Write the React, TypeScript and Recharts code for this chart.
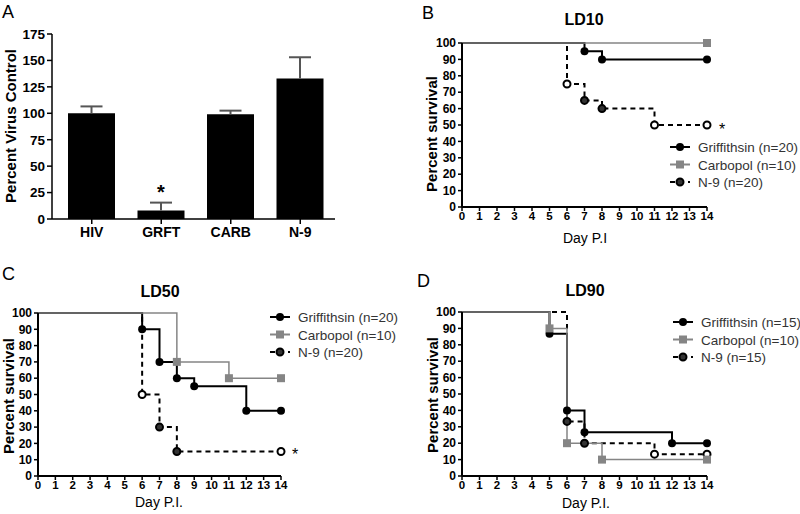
import React from 'react'
import { BarChart, Bar, LineChart, Line, XAxis, YAxis } from 'recharts'

// panel A
const groups = ['HIV', 'GRFT', 'CARB', 'N-9']
const percentVirus = [100, 8, 99, 133]
const percentErr = [6.5, 7.5, 3.5, 20]
const virusTicks = [0, 25, 50, 75, 100, 125, 150, 175]

// survival panels: [day, percent]
const ld10Griffithsin = [[0, 100], [7, 95], [8, 90], [14, 90]]
const ld10Carbopol = [[0, 100], [14, 100]]
const ld10N9 = [[0, 100], [6, 75], [7, 65], [8, 60], [11, 50], [14, 50]]
const ld10N9Censored = [6, 11, 14]

const ld50Griffithsin = [[0, 100], [6, 90], [7, 70], [8, 60], [9, 55], [12, 40], [14, 40]]
const ld50Carbopol = [[0, 100], [8, 70], [11, 60], [14, 60]]
const ld50N9 = [[0, 100], [6, 50], [7, 30], [8, 15], [14, 15]]
const ld50N9Censored = [6, 14]

const ld90Griffithsin = [[0, 100], [5, 86.7], [6, 40], [7, 26.7], [12, 20], [14, 20]]
const ld90Carbopol = [[0, 100], [5, 90], [6, 20], [8, 10], [14, 10]]
const ld90N9 = [[0, 100], [6, 33.3], [7, 20], [11, 13.3], [14, 13.3]]
const ld90N9Censored = [11, 14]

const dayTicks = [0, 1, 2, 3, 4, 5, 6, 7, 8, 9, 10, 11, 12, 13, 14]
const survivalTicks = [0, 10, 20, 30, 40, 50, 60, 70, 80, 90, 100]

const legendLD10 = ['Griffithsin (n=20)', 'Carbopol (n=10)', 'N-9 (n=20)']
const legendLD50 = ['Griffithsin (n=20)', 'Carbopol (n=10)', 'N-9 (n=20)']
const legendLD90 = ['Griffithsin (n=15)', 'Carbopol (n=10)', 'N-9 (n=15)']

const ARIAL = '"Liberation Sans", Arial, sans-serif'
const GRAY = '#858585'

const toRows = (pts: number[][]) => pts.map(([day, pct]) => ({ day, pct }))

const barRows = groups.map((name, i) => ({ name, mean: percentVirus[i], err: percentErr[i] }))

const ErrShape = (p: any) => {
  const cx = p.x + p.width / 2
  return (
    <g>
      <line x1={cx} x2={cx} y1={p.y + p.height} y2={p.y} stroke="#555" strokeWidth={2} />
      <line x1={cx - 11} x2={cx + 11} y1={p.y} y2={p.y} stroke="#555" strokeWidth={2} />
    </g>
  )
}

function dotFor(kind: string, censored: number[] = []) {
  return (p: any) => {
    const key = `${kind}-${p.index}`
    if (p.payload.day === 0) return <g key={key} />
    if (kind === 'grft') return <circle key={key} cx={p.cx} cy={p.cy} r={4} fill="#000" />
    if (kind === 'carb')
      return <rect key={key} x={p.cx - 4} y={p.cy - 4} width={8} height={8} fill={GRAY} />
    const open = censored.includes(p.payload.day)
    return (
      <circle key={key} cx={p.cx} cy={p.cy} r={3.5} fill={open ? '#fff' : '#333'} stroke="#000" strokeWidth={2} />
    )
  }
}

function SurvivalChart(props: any) {
  const { left, top, width, height, margin, yWidth, grft, carb, n9, censored } = props
  return (
    <div style={{ position: 'absolute', left, top }}>
      <LineChart width={width} height={height} margin={margin}>
        <XAxis
          type="number"
          dataKey="day"
          domain={[0, 14]}
          ticks={dayTicks}
          interval={0}
          height={30}
          tickSize={4}
          tickMargin={1}
          tick={{ fontSize: 11.5, fontWeight: 700, fill: '#000', fontFamily: ARIAL }}
          tickLine={{ stroke: '#000', strokeWidth: 1.5 }}
          axisLine={{ stroke: '#000', strokeWidth: 2 }}
        />
        <YAxis
          type="number"
          domain={[0, 100]}
          ticks={survivalTicks}
          interval={0}
          width={yWidth}
          tickSize={4}
          tickMargin={2}
          tick={{ fontSize: 12, fontWeight: 700, fill: '#000', fontFamily: ARIAL }}
          tickLine={{ stroke: '#000', strokeWidth: 1.5 }}
          axisLine={{ stroke: '#000', strokeWidth: 2 }}
        />
        <Line data={toRows(grft)} dataKey="pct" type="stepAfter" stroke="#000" strokeWidth={2}
          dot={dotFor('grft')} activeDot={false} isAnimationActive={false} />
        <Line data={toRows(n9)} dataKey="pct" type="stepAfter" stroke="#000" strokeWidth={2}
          strokeDasharray="5 4" dot={dotFor('n9', censored)} activeDot={false} isAnimationActive={false} />
        <Line data={toRows(carb)} dataKey="pct" type="stepAfter" stroke={GRAY} strokeWidth={1.5}
          dot={dotFor('carb')} activeDot={false} isAnimationActive={false} />
      </LineChart>
    </div>
  )
}

function Legend({ x, y, labels }: { x: number; y: number; labels: string[] }) {
  const gap = 17.5
  return (
    <g>
      {labels.map((lab, i) => {
        const cy = y + i * gap
        const cx = x + 10
        return (
          <g key={lab}>
            <line x1={x} x2={x + 20} y1={cy} y2={cy}
              stroke={i === 1 ? GRAY : '#000'} strokeWidth={2} strokeDasharray={i === 2 ? '5 4' : undefined} />
            {i === 0 && <circle cx={cx} cy={cy} r={4} fill="#000" />}
            {i === 1 && <rect x={cx - 4} y={cy - 4} width={8} height={8} fill={GRAY} />}
            {i === 2 && <circle cx={cx} cy={cy} r={3.5} fill="#333" stroke="#000" strokeWidth={2} />}
            <text x={x + 28} y={cy + 5} fontSize={13.5} fill="#333" fontFamily={ARIAL}>
              {lab}
            </text>
          </g>
        )
      })}
    </g>
  )
}

export default function App() {
  const letter = { fontSize: 18, fontFamily: ARIAL, fill: '#000' }
  const title = { fontSize: 16, fontWeight: 700, fontFamily: ARIAL, fill: '#000' }
  const ylab = { fontSize: 15, fontWeight: 700, fontFamily: ARIAL, fill: '#000' }
  const xlab = { fontSize: 14, fontFamily: ARIAL, fill: '#000' }
  return (
    <div style={{ position: 'absolute', left: 0, top: 0, width: 800, height: 514, background: '#fff' }}>
      <style>{'body{margin:0}'}</style>

      <div style={{ position: 'absolute', left: 0, top: 0 }}>
        <BarChart width={345} height={250} data={barRows} margin={{ top: 34, right: 10, bottom: 1, left: 0 }}>
          <XAxis
            dataKey="name"
            height={30}
            padding={{ left: 5, right: 0 }}
            tickSize={5}
            tickMargin={3}
            tick={{ fontSize: 14, fontWeight: 700, fill: '#000', fontFamily: ARIAL }}
            tickLine={{ stroke: '#000', strokeWidth: 1.5 }}
            axisLine={{ stroke: '#000', strokeWidth: 1.5 }}
          />
          <YAxis
            domain={[0, 175]}
            ticks={virusTicks}
            interval={0}
            width={52}
            tickSize={5}
            tickMargin={2}
            tick={{ fontSize: 13.5, fontWeight: 700, fill: '#000', fontFamily: ARIAL }}
            tickLine={{ stroke: '#000', strokeWidth: 1.5 }}
            axisLine={{ stroke: '#000', strokeWidth: 1.5 }}
          />
          <Bar dataKey="mean" stackId="s" fill="#000" barSize={47} isAnimationActive={false} />
          <Bar dataKey="err" stackId="s" barSize={47} shape={ErrShape} isAnimationActive={false} />
        </BarChart>
      </div>

      <SurvivalChart left={400} top={0} width={400} height={250} yWidth={62}
        margin={{ top: 43, right: 93, bottom: 13, left: 0 }}
        grft={ld10Griffithsin} carb={ld10Carbopol} n9={ld10N9} censored={ld10N9Censored} />
      <SurvivalChart left={0} top={250} width={400} height={264} yWidth={38}
        margin={{ top: 63, right: 119, bottom: 8, left: 0 }}
        grft={ld50Griffithsin} carb={ld50Carbopol} n9={ld50N9} censored={ld50N9Censored} />
      <SurvivalChart left={400} top={250} width={400} height={264} yWidth={62}
        margin={{ top: 62, right: 93, bottom: 8, left: 0 }}
        grft={ld90Griffithsin} carb={ld90Carbopol} n9={ld90N9} censored={ld90N9Censored} />

      <svg width={800} height={514} style={{ position: 'absolute', left: 0, top: 0, pointerEvents: 'none' }}>
        <text x={2} y={18} {...letter}>A</text>
        <text x={422} y={19} {...letter}>B</text>
        <text x={2} y={280} {...letter}>C</text>
        <text x={417} y={287} {...letter}>D</text>

        <text x={584} y={25} textAnchor="middle" {...title}>LD10</text>
        <text x={160} y={297} textAnchor="middle" {...title}>LD50</text>
        <text x={585} y={296} textAnchor="middle" {...title}>LD90</text>

        <g dominantBaseline="central">
          <text transform="translate(10,126) rotate(-90)" textAnchor="middle" {...ylab}>Percent Virus Control</text>
          <text transform="translate(431,134) rotate(-90)" textAnchor="middle" {...ylab}>Percent survival</text>
          <text transform="translate(8,396) rotate(-90)" textAnchor="middle" {...ylab}>Percent survival</text>
          <text transform="translate(432,395) rotate(-90)" textAnchor="middle" {...ylab}>Percent survival</text>
        </g>

        <text x={585} y={243} textAnchor="middle" {...xlab}>Day P.I</text>
        <text x={159} y={507} textAnchor="middle" {...xlab}>Day P.I.</text>
        <text x={586} y={508} textAnchor="middle" {...xlab}>Day P.I.</text>

        <text x={161} y={199} textAnchor="middle" fontSize={20} fontWeight={700} fontFamily={ARIAL}>*</text>
        <text x={722} y={135} textAnchor="middle" fontSize={16} fontFamily={ARIAL}>*</text>
        <text x={295} y={460} textAnchor="middle" fontSize={16} fontFamily={ARIAL}>*</text>

        <Legend x={670} y={147} labels={legendLD10} />
        <Legend x={270} y={317} labels={legendLD50} />
        <Legend x={673} y={322} labels={legendLD90} />
      </svg>
    </div>
  )
}
